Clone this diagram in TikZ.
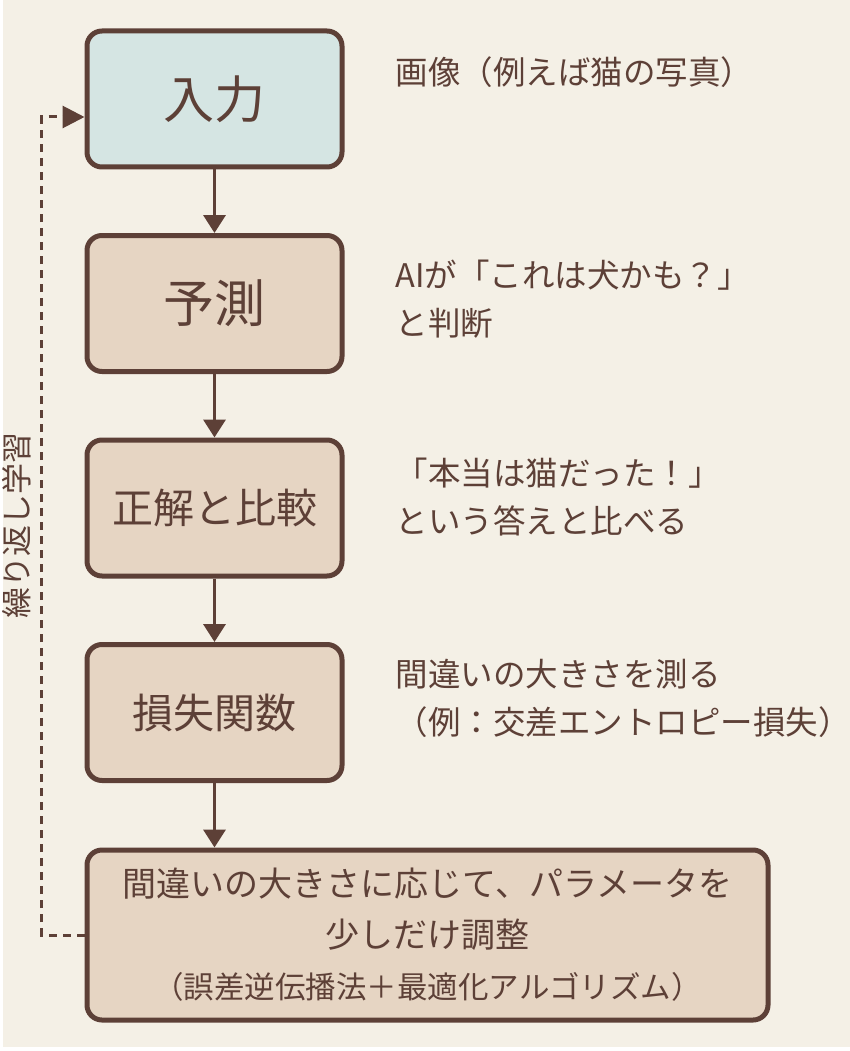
\documentclass[tikz,border=0pt]{standalone}
\usepackage{fontspec}
\setmainfont{Noto Sans CJK JP}
\usetikzlibrary{arrows.meta,positioning}
\definecolor{bgcream}{HTML}{F4F0E6}
\definecolor{boxbrown}{HTML}{E6D5C3}
\definecolor{boxblue}{HTML}{D5E5E3}
\definecolor{darkbrown}{HTML}{5D4037}
\begin{document}
\begin{tikzpicture}[x=1pt, y=1pt, node distance=204.5pt,
    box/.style={draw=darkbrown, line width=5pt, rounded corners=15pt, fill=boxbrown, text=darkbrown, minimum width=255pt, minimum height=136pt, align=center},
    note/.style={text=darkbrown, inner sep=0pt, align=left, font=\fontsize{32.5pt}{48pt}\selectfont},
    arrow/.style={draw=darkbrown, line width=3.5pt, -{Triangle[width=22pt,length=18pt]}},
    loopline/.style={draw=darkbrown, line width=3pt, dash pattern=on 8pt off 6pt, -{Triangle[width=22pt,length=22pt]}}]
      % Background
      \useasboundingbox (0,0) rectangle (850,-1051);
      \fill[white] (0,0) rectangle (850,-1051);
      \fill[bgcream] (3,0) rectangle (850,-1047);

      % Nodes
      \node[box, fill=boxblue, font=\fontsize{51pt}{60pt}\selectfont] (input) at (214.5,-99) {入力};
      \node[box, below of=input, font=\fontsize{51pt}{60pt}\selectfont] (predict) {予測};
      \node[box, below of=predict, font=\fontsize{41pt}{50pt}\selectfont] (compare) {正解と比較};
      \node[box, below of=compare, font=\fontsize{41pt}{50pt}\selectfont] (loss) {損失関数};
      \node[box, below of=loss, yshift=-18pt, xshift=213pt, minimum width=681pt, minimum height=170pt, font=\fontsize{34pt}{51pt}\selectfont] (adjust)
      {間違いの大きさに応じて、パラメータを\\少しだけ調整\\{\fontsize{30.5pt}{51pt}\selectfont （誤差逆伝播法＋最適化アルゴリズム）}};

      % Connections
      \draw[arrow] (input) -- (predict);
      \draw[arrow] (predict) -- (compare);
      \draw[arrow] (compare) -- (loss);
      \draw[arrow] (loss) -- (loss |- adjust.north);
      \draw[loopline] (adjust.west) -- ++(-43pt,0) |- ([yshift=-18pt]input.west);

      % Annotations
      \node[note, right=51pt of input, yshift=27pt] (inputnote) {画像（例えば猫の写真）};
      \node[note, right=51pt of predict, yshift=4pt] (predictnote) {AIが「これは犬かも？」\\と判断};
      \node[note, right=51pt of compare, yshift=11pt] (comparenote) {「本当は猫だった！」\\という答えと比べる};
      \node[note, right=51pt of loss, yshift=14pt] (lossnote) {間違いの大きさを測る\\（例：交差エントロピー損失）};
      \node[note, rotate=90, font=\fontsize{31pt}{40pt}\selectfont] (looplabel) at (17,-525) {繰り返し学習};
    \end{tikzpicture}
\end{document}
